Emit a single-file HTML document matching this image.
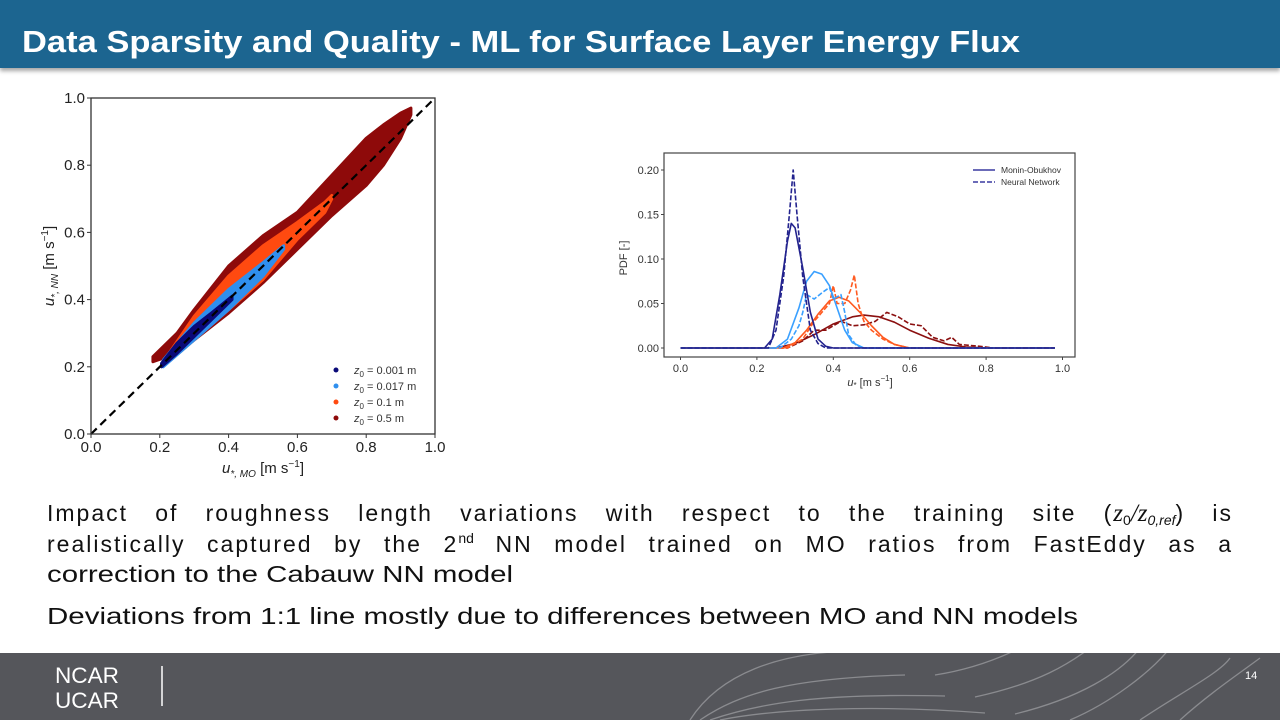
<!DOCTYPE html>
<html><head><meta charset="utf-8">
<style>
body{margin:0;width:1280px;height:720px;overflow:hidden;background:#fff;font-family:"Liberation Sans",sans-serif;position:relative}
#header{position:absolute;left:0;top:0;width:1280px;height:68px;background:#1c6590;box-shadow:0 3px 4px rgba(0,0,0,0.35)}
#footer{position:absolute;left:0;top:653px;width:1280px;height:67px;background:#55565b}
.jl{position:absolute;left:47px;width:1186px;height:30px;font-size:23px;line-height:30px;color:#111;text-align:justify;text-align-last:justify;letter-spacing:2px;white-space:normal}
.jl .s{font-size:14px;line-height:0;position:relative;letter-spacing:0}
svg text{font-family:"Liberation Sans",sans-serif}
</style></head><body>
<div id="header">
<svg width="1280" height="68"><text x="22" y="52" font-size="31" font-weight="bold" fill="#fff" textLength="998" lengthAdjust="spacingAndGlyphs">Data Sparsity and Quality - ML for Surface Layer Energy Flux</text></svg>
</div>

<svg id="scatter" width="460" height="400" style="position:absolute;left:0;top:85px"></svg>
<svg id="pdf" width="500" height="260" style="position:absolute;left:600px;top:145px"></svg>

<div class="jl" style="top:498px">Impact of roughness length variations with respect to the training site (<i style="font-family:'Liberation Serif';font-size:25px;letter-spacing:0">z</i><span class="s" style="top:4px">0</span><i style="font-family:'Liberation Serif';font-size:25px;letter-spacing:0">/z</i><span class="s" style="top:4px"><i>0,ref</i></span>) is</div>
<div class="jl" style="top:529px">realistically captured by the 2<span class="s" style="top:-9px">nd</span> NN model trained on MO ratios from FastEddy as a</div>

<svg width="1280" height="150" style="position:absolute;left:0;top:490px">
<text x="47" y="92" font-size="23" fill="#111" textLength="466" lengthAdjust="spacingAndGlyphs">correction to the Cabauw NN model</text>
<text x="47" y="134" font-size="23" fill="#111" textLength="1031" lengthAdjust="spacingAndGlyphs">Deviations from 1:1 line mostly due to differences between MO and NN models</text>
</svg>

<div id="footer">
<svg width="1280" height="67">
<text x="55" y="30" font-size="22" fill="#fff" textLength="64" lengthAdjust="spacingAndGlyphs">NCAR</text>
<text x="55" y="55" font-size="22" fill="#fff" textLength="64" lengthAdjust="spacingAndGlyphs">UCAR</text>
<line x1="162" y1="13" x2="162" y2="53" stroke="#fff" stroke-width="1.5"/>
<text x="1245" y="26" font-size="11" fill="#fff">14</text>
<g fill="none" stroke="#8a8b8f" stroke-width="1.3">
<path d="M690 67 C720 20 780 0 850 -2"/>
<path d="M700 67 C740 40 790 25 905 22"/>
<path d="M710 67 C760 50 820 40 945 43"/>
<path d="M720 67 C780 55 880 52 985 60"/>
<path d="M935 22 C980 15 1010 0 1020 -5"/>
<path d="M975 44 C1040 30 1070 10 1090 -5"/>
<path d="M1015 61 C1080 45 1120 20 1140 -5"/>
<path d="M1070 67 C1110 50 1150 20 1170 -5"/>
<path d="M1140 67 C1180 40 1220 20 1230 5"/>
<path d="M1180 67 C1210 40 1240 20 1260 5"/>
</g>
</svg>
</div>

<script>
const NS='http://www.w3.org/2000/svg';
function mk(parent,tag,attrs){const e=document.createElementNS(NS,tag);for(const k in attrs)e.setAttribute(k,attrs[k]);parent.appendChild(e);return e;}

/* ---------- scatter chart data ---------- */
const scTicks=[0.0,0.2,0.4,0.6,0.8,1.0];
const scTickLabels=['0.0','0.2','0.4','0.6','0.8','1.0'];
const scSeriesLabels=['0.001 m','0.017 m','0.1 m','0.5 m'];
const scColors=['#0a0a78','#2f8fee','#ff4a10','#8e0a0a'];
const redX=[0.18,0.25,0.30,0.40,0.50,0.60,0.70,0.80,0.85,0.90,0.93];
const redUpper=[0.23,0.30,0.37,0.50,0.59,0.66,0.77,0.88,0.92,0.955,0.97];
const redLower=[0.215,0.24,0.28,0.36,0.45,0.55,0.65,0.74,0.80,0.88,0.95];
const orangeX=[0.22,0.30,0.40,0.50,0.60,0.68,0.70];
const orangeUpper=[0.23,0.35,0.47,0.56,0.63,0.69,0.71];
const orangeLower=[0.21,0.28,0.37,0.46,0.58,0.66,0.70];
const blueX=[0.21,0.30,0.40,0.50,0.56];
const blueUpper=[0.22,0.33,0.43,0.51,0.56];
const blueLower=[0.20,0.28,0.37,0.47,0.55];
const navyX=[0.205,0.25,0.30,0.35,0.41];
const navyUpper=[0.21,0.27,0.32,0.36,0.41];
const navyLower=[0.20,0.24,0.29,0.34,0.40];

(function(){
const svg=document.getElementById('scatter');
const X0=91,X1=435,Y0=349,Y1=13;
const sx=v=>X0+(X1-X0)*v, sy=v=>Y0-(Y0-Y1)*v;
const bands=[[redX,redUpper,redLower,3],[orangeX,orangeUpper,orangeLower,2],[blueX,blueUpper,blueLower,1],[navyX,navyUpper,navyLower,0]];
bands.forEach(b=>{
  const [xs,up,lo,ci]=b;
  let pts=xs.map((x,i)=>sx(x)+','+sy(up[i]));
  for(let i=xs.length-1;i>=0;i--)pts.push(sx(xs[i])+','+sy(lo[i]));
  const p=mk(svg,'polygon',{points:pts.join(' '),fill:scColors[ci],stroke:scColors[ci],'stroke-width':3,'stroke-linejoin':'round'});
  
  
});
const d=mk(svg,'line',{x1:sx(0),y1:sy(0),x2:sx(1),y2:sy(1),stroke:'#000','stroke-width':2.2,'stroke-dasharray':'8,5'});


const fr=mk(svg,'rect',{x:X0,y:Y1,width:X1-X0,height:Y0-Y1,fill:'none',stroke:'#333','stroke-width':1.3});


scTicks.forEach((t,i)=>{
  mk(svg,'line',{x1:sx(t),y1:Y0,x2:sx(t),y2:Y0+4,stroke:'#333'});
  mk(svg,'line',{x1:X0-4,y1:sy(t),x2:X0,y2:sy(t),stroke:'#333'});
  const tx=mk(svg,'text',{x:sx(t),y:Y0+18,'font-size':15,'text-anchor':'middle',fill:'#222'});tx.textContent=scTickLabels[i];
  
  
  const ty=mk(svg,'text',{x:X0-6,y:sy(t)+5,'font-size':15,'text-anchor':'end',fill:'#222'});ty.textContent=scTickLabels[i];
  
  
});
const xl=mk(svg,'text',{x:263,y:388,'font-size':15,'text-anchor':'middle',fill:'#222'});
xl.innerHTML='<tspan font-style="italic">u</tspan><tspan font-size="10" dy="4" font-style="italic">*, MO</tspan><tspan dy="-4"> [m s</tspan><tspan font-size="10" dy="-6">−1</tspan><tspan dy="6">]</tspan>';


const yl=mk(svg,'text',{x:0,y:0,'font-size':15,'text-anchor':'middle',fill:'#222',transform:'translate(54,181) rotate(-90)'});
yl.innerHTML='<tspan font-style="italic">u</tspan><tspan font-size="10" dy="4" font-style="italic">*, NN</tspan><tspan dy="-4"> [m s</tspan><tspan font-size="10" dy="-6">−1</tspan><tspan dy="6">]</tspan>';


scSeriesLabels.forEach((s,i)=>{
  const g=mk(svg,'g',{});
  
  
  const y=285+i*16;
  mk(g,'circle',{cx:336,cy:y,r:2.5,fill:scColors[i]});
  const t=mk(g,'text',{x:354,y:y+4,'font-size':11,fill:'#333'});
  t.innerHTML='<tspan font-style="italic">z</tspan><tspan font-size="8" dy="3">0</tspan><tspan dy="-3"> = '+s+'</tspan>';
});
})();

/* ---------- PDF chart data ---------- */
const pdfXTicks=[0.0,0.2,0.4,0.6,0.8,1.0];
const pdfXLabels=['0.0','0.2','0.4','0.6','0.8','1.0'];
const pdfYTicks=[0.00,0.05,0.10,0.15,0.20];
const pdfYLabels=['0.00','0.05','0.10','0.15','0.20'];
const pdfColors=['#23238e','#3aa0ff','#ff5a20','#8b1010'];
const navyMOx=[0.0,0.22,0.24,0.26,0.28,0.29,0.30,0.32,0.34,0.36,0.38,0.40,0.98];
const navyMOy=[0,0,0.01,0.06,0.12,0.14,0.135,0.09,0.04,0.01,0.002,0,0];
const navyNNx=[0.0,0.23,0.25,0.27,0.285,0.295,0.305,0.32,0.34,0.36,0.38,0.98];
const navyNNy=[0,0,0.02,0.08,0.15,0.20,0.15,0.08,0.02,0.005,0,0];
const blueMOx=[0.0,0.25,0.28,0.31,0.33,0.35,0.37,0.39,0.41,0.43,0.45,0.48,0.98];
const blueMOy=[0,0,0.01,0.045,0.075,0.086,0.083,0.07,0.045,0.02,0.006,0,0];
const blueNNx=[0.0,0.26,0.29,0.31,0.32,0.33,0.35,0.37,0.39,0.40,0.42,0.43,0.44,0.46,0.48,0.98];
const blueNNy=[0,0,0.01,0.025,0.04,0.06,0.055,0.062,0.068,0.055,0.06,0.04,0.015,0.003,0,0];
const orangeMOx=[0.0,0.27,0.30,0.33,0.36,0.39,0.415,0.44,0.47,0.50,0.53,0.56,0.60,0.98];
const orangeMOy=[0,0,0.006,0.02,0.038,0.053,0.057,0.053,0.04,0.025,0.012,0.004,0,0];
const orangeNNx=[0.0,0.28,0.32,0.35,0.37,0.39,0.40,0.41,0.43,0.445,0.455,0.465,0.48,0.50,0.53,0.56,0.60,0.98];
const orangeNNy=[0,0,0.01,0.03,0.04,0.05,0.07,0.05,0.05,0.065,0.082,0.05,0.03,0.02,0.01,0.004,0,0];
const redMOx=[0.0,0.25,0.30,0.35,0.40,0.45,0.48,0.52,0.56,0.60,0.65,0.70,0.75,0.80,0.98];
const redMOy=[0,0,0.005,0.015,0.027,0.035,0.037,0.035,0.029,0.02,0.011,0.004,0.001,0,0];
const redNNx=[0.0,0.28,0.32,0.35,0.38,0.42,0.45,0.48,0.51,0.54,0.57,0.60,0.63,0.66,0.69,0.71,0.73,0.78,0.82,0.98];
const redNNy=[0,0,0.008,0.02,0.02,0.03,0.025,0.026,0.03,0.04,0.035,0.027,0.025,0.012,0.008,0.012,0.004,0.002,0,0];

(function(){
const svg=document.getElementById('pdf');
const X0=80.5,X1=462.5,Y0=203,Y1=25;
const PX0=64,PX1=475,PY0=8,PY1=212;
const sx=v=>X0+(X1-X0)*v, sy=v=>Y0-(Y0-Y1)*v/0.2;
const fr=mk(svg,'rect',{x:PX0,y:PY0,width:PX1-PX0,height:PY1-PY0,fill:'none',stroke:'#444','stroke-width':1.2});


const curves=[[redMOx,redMOy,3,false],[redNNx,redNNy,3,true],[orangeMOx,orangeMOy,2,false],[orangeNNx,orangeNNy,2,true],[blueMOx,blueMOy,1,false],[blueNNx,blueNNy,1,true],[navyMOx,navyMOy,0,false],[navyNNx,navyNNy,0,true]];
const nm=['navy','lightblue','orange','darkred'];
curves.forEach(c=>{
  const [xs,ys,ci,dash]=c;
  const p=mk(svg,'polyline',{points:xs.map((x,i)=>sx(x)+','+sy(ys[i])).join(' '),fill:'none',stroke:pdfColors[ci],'stroke-width':1.6,'stroke-linejoin':'round'});
  if(dash)p.setAttribute('stroke-dasharray','5,2');
  
  
});
pdfXTicks.forEach((t,i)=>{
  mk(svg,'line',{x1:sx(t),y1:PY1,x2:sx(t),y2:PY1+3,stroke:'#444'});
  const tx=mk(svg,'text',{x:sx(t),y:PY1+15,'font-size':11,'text-anchor':'middle',fill:'#333'});tx.textContent=pdfXLabels[i];
  
  
});
pdfYTicks.forEach((t,i)=>{
  mk(svg,'line',{x1:PX0-3,y1:sy(t),x2:PX0,y2:sy(t),stroke:'#444'});
  const ty=mk(svg,'text',{x:PX0-5,y:sy(t)+4,'font-size':11,'text-anchor':'end',fill:'#333'});ty.textContent=pdfYLabels[i];
  
  
});
const xl=mk(svg,'text',{x:270,y:241,'font-size':11,'text-anchor':'middle',fill:'#333'});
xl.innerHTML='<tspan font-style="italic">u</tspan><tspan font-size="8" dy="2">*</tspan><tspan dy="-2"> [m s</tspan><tspan font-size="8" dy="-5">−1</tspan><tspan dy="5">]</tspan>';


const yl=mk(svg,'text',{x:0,y:0,'font-size':11,'text-anchor':'middle',fill:'#333',transform:'translate(27,113) rotate(-90)'});
yl.textContent='PDF [-]';


const lg=[['Monin-Obukhov',false],['Neural Network',true]];
lg.forEach((l,i)=>{
  const g=mk(svg,'g',{});
  
  
  const y=25+i*12;
  const ln=mk(g,'line',{x1:373,y1:y,x2:395,y2:y,stroke:'#3a3aa0','stroke-width':1.6});
  if(l[1])ln.setAttribute('stroke-dasharray','5,2');
  const t=mk(g,'text',{x:401,y:y+3,'font-size':8.5,fill:'#333'});t.textContent=l[0];
});
})();
</script>
</body></html>
